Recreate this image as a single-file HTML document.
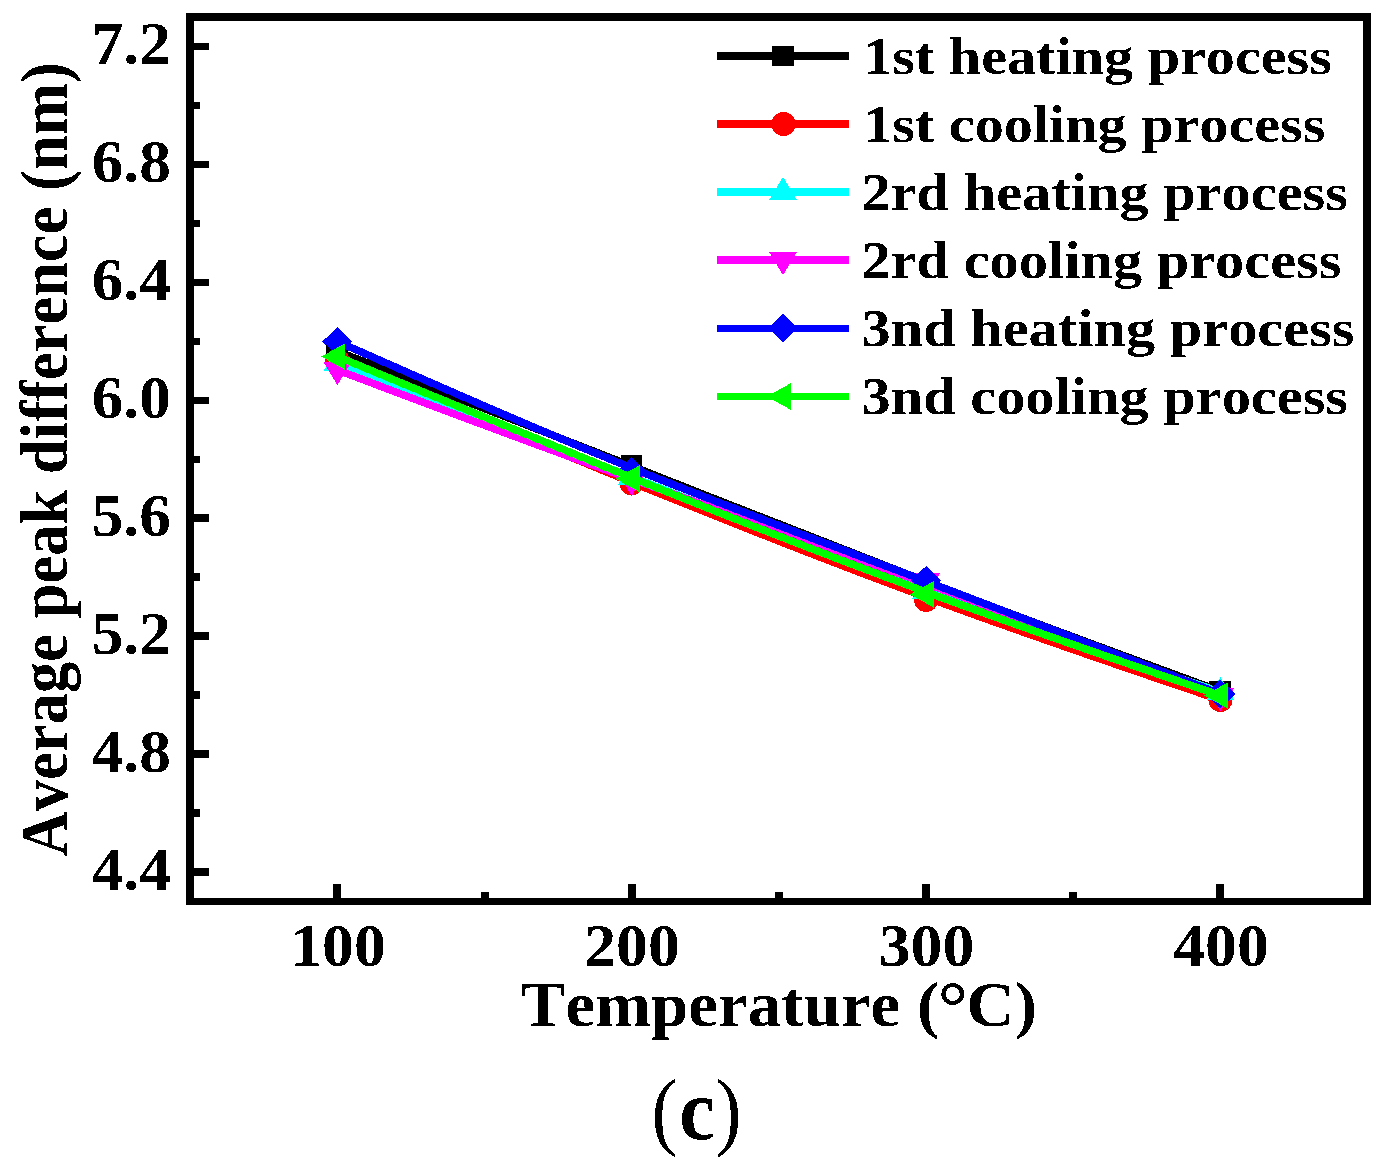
<!DOCTYPE html>
<html lang="en">
<head>
<meta charset="utf-8">
<title>Average peak difference vs Temperature (c)</title>
<style>
  html, body { margin: 0; padding: 0; background: #ffffff; }
  body { width: 1388px; height: 1170px; overflow: hidden; }
  svg { display: block; }
  .t { font-family: "Liberation Serif", "Times New Roman", serif; font-weight: bold; fill: #000; font-kerning: none; font-variant-ligatures: none; }
  .r { font-family: "Liberation Serif", "Times New Roman", serif; font-weight: normal; fill: #000; }
</style>
</head>
<body>
<svg width="1388" height="1170" viewBox="0 0 1388 1170">
  <rect x="0" y="0" width="1388" height="1170" fill="#ffffff"/>
  <defs>
    <filter id="bin" x="-2%" y="-2%" width="104%" height="104%" color-interpolation-filters="sRGB">
      <feComponentTransfer><feFuncA type="discrete" tableValues="0 1"/></feComponentTransfer>
    </filter>
  </defs>

  <!-- ===== data series (drawn back to front) ===== -->
  <g id="series" shape-rendering="crispEdges" stroke-linejoin="round" stroke-linecap="butt" fill="none" stroke-width="7.5">
    <!-- 1st heating: black squares (B-spline connected) -->
    <path stroke="#000000" d="M337.4,351.3 C337.4,351.3 337.4,351.3 386.45,370.33 C435.5,389.37 533.6,427.43 631.72,466.05 C729.83,504.67 827.97,543.83 926.08,581.45 C1024.2,619.07 1122.3,655.13 1171.35,673.17 C1220.4,691.2 1220.4,691.2 1220.4,691.2"/>
    <g fill="#000000" stroke="none">
      <rect x="326.4" y="340.8" width="21.4" height="21"/>
      <rect x="620.7" y="455" width="21.4" height="21"/>
      <rect x="915.1" y="572.5" width="21.4" height="21"/>
      <rect x="1209.4" y="680.7" width="21.4" height="21"/>
    </g>
    <!-- 1st cooling: red circles (B-spline connected) -->
    <path stroke="#ff0000" d="M337.4,360.7 C337.4,360.7 337.4,360.7 386.45,381.13 C435.5,401.57 533.6,442.43 631.72,482.32 C729.83,522.2 827.97,561.1 926.08,597.22 C1024.2,633.33 1122.3,666.67 1171.35,683.33 C1220.4,700 1220.4,700 1220.4,700"/>
    <g fill="#ff0000" stroke="none">
      <circle cx="337.4" cy="360.7" r="12"/>
      <circle cx="631.7" cy="483.3" r="12"/>
      <circle cx="926.1" cy="600" r="12"/>
      <circle cx="1220.4" cy="700" r="12"/>
    </g>
    <!-- 2rd heating: cyan up triangles (B-spline connected) -->
    <path stroke="#00ffff" d="M337.4,363 C337.4,363 337.4,363 386.45,382 C435.5,401 533.6,439 631.72,477 C729.83,515 827.97,553 926.08,588.87 C1024.2,624.73 1122.3,658.47 1171.35,675.33 C1220.4,692.2 1220.4,692.2 1220.4,692.2"/>
    <g fill="#00ffff" stroke="none">
      <polygon points="337.4,348 351.4,371 323.4,371"/>
      <polygon points="631.7,462 645.7,485 617.7,485"/>
      <polygon points="926.1,576 940.1,599 912.1,599"/>
      <polygon points="1220.4,677.2 1234.4,700.2 1206.4,700.2"/>
    </g>
    <!-- 2rd cooling: magenta down triangles (B-spline connected) -->
    <path stroke="#ff00ff" d="M337.4,370 C337.4,370 337.4,370 386.45,388.5 C435.5,407 533.6,444 631.72,479.17 C729.83,514.33 827.97,547.67 926.08,583.5 C1024.2,619.33 1122.3,657.67 1171.35,676.83 C1220.4,696 1220.4,696 1220.4,696"/>
    <g fill="#ff00ff" stroke="none">
      <polygon points="323.4,362 351.4,362 337.4,385"/>
      <polygon points="617.7,473 645.7,473 631.7,496"/>
      <polygon points="912.1,573 940.1,573 926.1,596"/>
      <polygon points="1206.4,688 1234.4,688 1220.4,711"/>
    </g>
    <!-- 3nd heating: blue diamonds (B-spline connected) -->
    <path stroke="#0000ff" d="M337.4,341.5 C337.4,341.5 337.4,341.5 386.45,363.17 C435.5,384.83 533.6,428.17 631.72,468 C729.83,507.83 827.97,544.17 926.08,581.25 C1024.2,618.33 1122.3,656.17 1171.35,675.08 C1220.4,694 1220.4,694 1220.4,694"/>
    <g fill="#0000ff" stroke="none">
      <polygon points="337.4,327 352.4,341.5 337.4,356 322.4,341.5"/>
      <polygon points="631.7,457 646.7,471.5 631.7,486 616.7,471.5"/>
      <polygon points="926.1,566 941.1,580.5 926.1,595 911.1,580.5"/>
      <polygon points="1220.4,679.5 1235.4,694 1220.4,708.5 1205.4,694"/>
    </g>
    <!-- 3nd cooling: green left triangles (B-spline connected) -->
    <path stroke="#00ff00" d="M337.4,356.5 C337.4,356.5 337.4,356.5 386.45,376.87 C435.5,397.23 533.6,437.97 631.72,477.62 C729.83,517.27 827.97,555.83 926.08,591.97 C1024.2,628.1 1122.3,661.8 1171.35,678.65 C1220.4,695.5 1220.4,695.5 1220.4,695.5"/>
    <g fill="#00ff00" stroke="none">
      <polygon points="321.4,356.5 345.4,343 345.4,370"/>
      <polygon points="615.7,478.7 639.7,465.2 639.7,492.2"/>
      <polygon points="910.1,594.4 934.1,580.9 934.1,607.9"/>
      <polygon points="1204.4,695.5 1228.4,682 1228.4,709"/>
    </g>
  </g>

  <!-- ===== frame and ticks ===== -->
  <g id="axes" shape-rendering="crispEdges" fill="#000000" stroke="none">
    <!-- frame: outer 186..1371 x 13..905 -->
    <rect x="186" y="13" width="1185" height="8"/>
    <rect x="186" y="898" width="1185" height="7"/>
    <rect x="186" y="13" width="8" height="892"/>
    <rect x="1363" y="13" width="8" height="892"/>
    <!-- y major ticks (7.2 ... 4.4) -->
    <rect x="194" y="42.75" width="15" height="7.5"/>
    <rect x="194" y="160.68" width="15" height="7.5"/>
    <rect x="194" y="278.61" width="15" height="7.5"/>
    <rect x="194" y="396.54" width="15" height="7.5"/>
    <rect x="194" y="514.47" width="15" height="7.5"/>
    <rect x="194" y="632.4" width="15" height="7.5"/>
    <rect x="194" y="750.33" width="15" height="7.5"/>
    <rect x="194" y="868.26" width="15" height="7.5"/>
    <!-- y minor ticks -->
    <rect x="194" y="101.72" width="6" height="7.5"/>
    <rect x="194" y="219.65" width="6" height="7.5"/>
    <rect x="194" y="337.58" width="6" height="7.5"/>
    <rect x="194" y="455.5" width="6" height="7.5"/>
    <rect x="194" y="573.44" width="6" height="7.5"/>
    <rect x="194" y="691.37" width="6" height="7.5"/>
    <rect x="194" y="809.3" width="6" height="7.5"/>
    <!-- x major ticks (100 ... 400) -->
    <rect x="333.4" y="884" width="8" height="14"/>
    <rect x="627.73" y="884" width="8" height="14"/>
    <rect x="922.06" y="884" width="8" height="14"/>
    <rect x="1216.39" y="884" width="8" height="14"/>
    <!-- x minor ticks -->
    <rect x="480.56" y="892" width="8" height="6"/>
    <rect x="774.89" y="892" width="8" height="6"/>
    <rect x="1069.22" y="892" width="8" height="6"/>
  </g>
  <!-- ===== legend ===== -->
  <g id="legend" shape-rendering="crispEdges" stroke="none">
    <rect x="717" y="52" width="132" height="8" fill="#000000"/>
    <rect x="772" y="46" width="22" height="20" fill="#000000"/>
    <rect x="717" y="120" width="132" height="8" fill="#ff0000"/>
    <ellipse cx="783.5" cy="124" rx="12" ry="12" fill="#ff0000"/>
    <rect x="717" y="188" width="132" height="8" fill="#00ffff"/>
    <polygon points="783,177 797,200 769,200" fill="#00ffff"/>
    <rect x="717" y="256" width="132" height="8" fill="#ff00ff"/>
    <polygon points="769,252 797,252 783,275" fill="#ff00ff"/>
    <rect x="717" y="325" width="132" height="7" fill="#0000ff"/>
    <polygon points="783,314 798,328 783,342.3 768,328" fill="#0000ff"/>
    <rect x="717" y="393" width="132" height="7" fill="#00ff00"/>
    <polygon points="767,396.5 791,383 791,410" fill="#00ff00"/>
  </g>
  <g id="alltext" filter="url(#bin)">
  <g id="legend-text" class="t" font-size="53">
    <text transform="translate(863.2,74) scale(1.098,1)">1st heating process</text>
    <text transform="translate(863.2,142) scale(1.098,1)">1st cooling process</text>
    <text transform="translate(861.5,210) scale(1.102,1)">2rd heating process</text>
    <text transform="translate(861.5,278) scale(1.102,1)">2rd cooling process</text>
    <text transform="translate(861.5,346) scale(1.102,1)">3nd heating process</text>
    <text transform="translate(861.5,414) scale(1.102,1)">3nd cooling process</text>
  </g>

  <!-- ===== tick labels ===== -->
  <g id="ylabels" class="t" font-size="60.6" text-anchor="end">
    <text transform="translate(171,64) scale(1.045,1)">7.2</text>
    <text transform="translate(171,182) scale(1.045,1)">6.8</text>
    <text transform="translate(171,300) scale(1.045,1)">6.4</text>
    <text transform="translate(171,418) scale(1.045,1)">6.0</text>
    <text transform="translate(171,536) scale(1.045,1)">5.6</text>
    <text transform="translate(171,654) scale(1.045,1)">5.2</text>
    <text transform="translate(171,772) scale(1.045,1)">4.8</text>
    <text transform="translate(171,890) scale(1.045,1)">4.4</text>
  </g>
  <g id="xlabels" class="t" font-size="60.6" text-anchor="middle">
    <text transform="translate(338,966) scale(1.053,1)">100</text>
    <text transform="translate(632,966) scale(1.053,1)">200</text>
    <text transform="translate(926.5,966) scale(1.053,1)">300</text>
    <text transform="translate(1221,966) scale(1.053,1)">400</text>
  </g>

  <!-- ===== axis titles ===== -->
  <text id="xtitle" class="t" font-size="64" text-anchor="middle" transform="translate(778.9,1026) scale(1.047,1)">Temperature (<tspan font-size="72" dx="-1.5" dy="5">°</tspan><tspan dx="-1.5" dy="-5">C)</tspan></text>
  <text id="ytitle" class="t" font-size="62.6" text-anchor="middle" transform="translate(67,459.4) scale(1.086,1) rotate(-90)">Average peak difference (nm)</text>

  <!-- ===== panel label ===== -->
  <g id="panel" font-size="86">
    <text class="r" transform="translate(651.6,1139) scale(0.91,1)">(</text>
    <text class="t" transform="translate(679.3,1139) scale(0.93,1)">c</text>
    <text class="r" transform="translate(715.5,1139) scale(0.91,1)">)</text>
  </g>
  </g>
</svg>
</body>
</html>
